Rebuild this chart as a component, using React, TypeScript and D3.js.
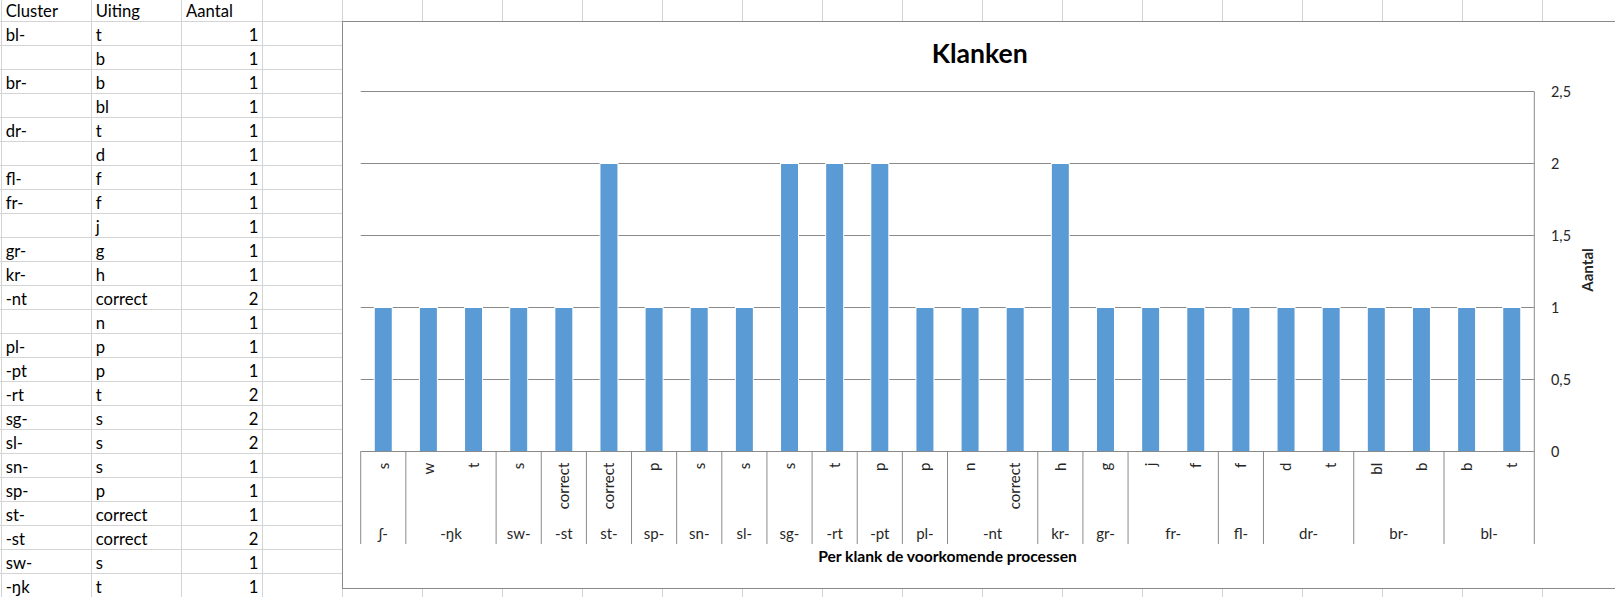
import React, { useLayoutEffect, useRef, useState } from "react";
import * as d3 from "d3";

// ---- spreadsheet table data ----
const tableHeader = ["Cluster", "Uiting", "Aantal"];
const tableCluster = ["bl-", "", "br-", "", "dr-", "", "fl-", "fr-", "", "gr-", "kr-", "-nt", "", "pl-", "-pt", "-rt", "sg-", "sl-", "sn-", "sp-", "st-", "-st", "sw-", "-ŋk"];
const tableUiting = ["t", "b", "b", "bl", "t", "d", "f", "f", "j", "g", "h", "correct", "n", "p", "p", "t", "s", "s", "s", "p", "correct", "correct", "s", "t"];
const tableAantal = [1, 1, 1, 1, 1, 1, 1, 1, 1, 1, 1, 2, 1, 1, 1, 2, 2, 2, 1, 1, 1, 2, 1, 1];

// ---- chart data ----
const barCluster = ["ʃ-", "-ŋk", "-ŋk", "sw-", "-st", "st-", "sp-", "sn-", "sl-", "sg-", "-rt", "-pt", "pl-", "-nt", "-nt", "kr-", "gr-", "fr-", "fr-", "fl-", "dr-", "dr-", "br-", "br-", "bl-", "bl-"];
const barUiting = ["s", "w", "t", "s", "correct", "correct", "p", "s", "s", "s", "t", "p", "p", "n", "correct", "h", "g", "j", "f", "f", "d", "t", "bl", "b", "b", "t"];
const barAantal = [1, 1, 1, 1, 1, 2, 1, 1, 1, 2, 2, 2, 1, 1, 1, 2, 1, 1, 1, 1, 1, 1, 1, 1, 1, 1];
const yTicks = [0, 0.5, 1, 1.5, 2, 2.5];
const chartTitle = "Klanken";
const xTitle = "Per klank de voorkomende processen";
const yTitle = "Aantal";

const W = 1615;
const H = 597;
const FONT = "Lato, 'Open Sans', sans-serif";

// text samples and their widths in the reference (px), used to fit font sizes
const fitSpecs: { key: string; text: string; bold: boolean; target: number }[] = [
  { key: "title", text: chartTitle, bold: true, target: 96 },
  { key: "xTitle", text: xTitle, bold: true, target: 259 },
  { key: "yTitle", text: yTitle, bold: true, target: 43.7 },
  { key: "table", text: "correct", bold: false, target: 51.7 },
  { key: "cat", text: "correct", bold: false, target: 46.7 },
  { key: "tick", text: "2,5", bold: false, target: 20 },
];

export default function App() {
  const measureRefs = useRef<(SVGTextElement | null)[]>([]);
  const [sizes, setSizes] = useState<Record<string, number>>({
    title: 26,
    xTitle: 16.5,
    yTitle: 14.7,
    table: 15.5,
    cat: 14.67,
    tick: 14.67,
  });
  const [measured, setMeasured] = useState(false);

  useLayoutEffect(() => {
    const next: Record<string, number> = {};
    fitSpecs.forEach((s, i) => {
      const el = measureRefs.current[i];
      if (el) {
        const len = el.getComputedTextLength();
        if (len > 0) next[s.key] = (100 * s.target) / len;
      }
    });
    setSizes((prev) => ({ ...prev, ...next }));
    setMeasured(true);
  }, []);

  // spreadsheet grid
  const rowY0 = 21.5;
  const rowH = 24;
  const colLines = [1.5, 91.5, 181.5, 262.5];
  for (let x = 342.5; x < W; x += 80) colLines.push(x);
  const rowLines: number[] = [];
  for (let y = rowY0; y < H; y += rowH) rowLines.push(y);

  // chart geometry
  const chartLeft = 342.5;
  const chartTop = 21.5;
  const chartBottom = 588.5;
  const plotLeft = 360.7;
  const plotRight = 1534.3;
  const plotTop = 91.5;
  const plotBottom = 451.5;

  const idx = barAantal.map((_, i) => i);
  const x = d3
    .scaleBand<number>()
    .domain(idx)
    .range([plotLeft, plotRight])
    .paddingInner(0.624)
    .paddingOuter(0.312);
  const y = d3.scaleLinear().domain([0, 2.5]).range([plotBottom, plotTop]);
  const step = x.step();
  const fmt = (v: number) => String(v).replace(".", ",");

  // groups of consecutive clusters
  const groups: { name: string; start: number; end: number }[] = [];
  barCluster.forEach((c, i) => {
    const g = groups[groups.length - 1];
    if (g && g.name === c) g.end = i;
    else groups.push({ name: c, start: i, end: i });
  });
  const groupX = (i: number) => plotLeft + i * step;

  const gridColor = "#d4d4d4";
  const axisColor = "#8a8a8a";
  const textColor = "#262626";

  return (
    <svg
      width={W}
      height={H}
      style={{ position: "absolute", left: 0, top: 0, background: "#fff" }}
      fontFamily={FONT}
    >
      {/* hidden measuring texts */}
      {!measured &&
        fitSpecs.map((s, i) => (
          <text
            key={"m" + s.key}
            ref={(el) => {
              measureRefs.current[i] = el;
            }}
            x={0}
            y={-200}
            fontSize={100}
            fontWeight={s.bold ? "bold" : "normal"}
            opacity={0}
          >
            {s.text}
          </text>
        ))}
      <rect x={0} y={0} width={W} height={H} fill="#fff" />
      {/* spreadsheet grid */}
      {rowLines.map((ry) => (
        <line key={"r" + ry} x1={0} x2={W} y1={ry} y2={ry} stroke={gridColor} strokeWidth={1} />
      ))}
      {colLines.map((cx) => (
        <line key={"c" + cx} x1={cx} x2={cx} y1={0} y2={H} stroke={gridColor} strokeWidth={1} />
      ))}
      {/* table text */}
      <g fontSize={sizes.table} fill="#000">
        <text x={5.7} y={16.5}>{tableHeader[0]}</text>
        <text x={95.7} y={16.5}>{tableHeader[1]}</text>
        <text x={186} y={16.5}>{tableHeader[2]}</text>
        {tableCluster.map((c, i) => (
          <text key={"tc" + i} x={5.7} y={16.5 + rowH * (i + 1)}>{c}</text>
        ))}
        {tableUiting.map((u, i) => (
          <text key={"tu" + i} x={95.7} y={16.5 + rowH * (i + 1)}>{u}</text>
        ))}
        {tableAantal.map((a, i) => (
          <text key={"ta" + i} x={258.3} y={16.5 + rowH * (i + 1)} textAnchor="end">{a}</text>
        ))}
      </g>

      {/* chart area */}
      <rect
        x={chartLeft}
        y={chartTop}
        width={W + 10 - chartLeft}
        height={chartBottom - chartTop}
        fill="#fff"
        stroke={axisColor}
        strokeWidth={1}
      />
      <text x={979.7} y={63.3} textAnchor="middle" fontSize={sizes.title} fontWeight="bold" fill="#000">
        {chartTitle}
      </text>

      {/* gridlines */}
      {yTicks.map((t) => (
        <line
          key={"g" + t}
          x1={plotLeft}
          x2={plotRight}
          y1={Math.round(y(t) - 0.5) + 0.5}
          y2={Math.round(y(t) - 0.5) + 0.5}
          stroke={axisColor}
          strokeWidth={1}
        />
      ))}
      {/* bars */}
      {barAantal.map((v, i) => (
        <g key={"b" + i}>
          <rect
            x={(x(i) as number) - 1}
            y={y(v) - 0.5}
            width={x.bandwidth() + 2}
            height={plotBottom - y(v)}
            fill="#fff"
          />
          <rect
            x={x(i) as number}
            y={y(v) + 0.5}
            width={x.bandwidth()}
            height={plotBottom - y(v) - 0.5}
            fill="#5B9BD5"
          />
        </g>
      ))}
      {/* baseline and value axis */}
      <line x1={plotLeft} x2={plotRight} y1={plotBottom} y2={plotBottom} stroke={axisColor} />
      <line x1={plotRight} x2={plotRight} y1={plotTop} y2={plotBottom} stroke={axisColor} />
      {/* y tick labels */}
      <g fontSize={sizes.tick} fill={textColor}>
        {yTicks.map((t) => (
          <text key={"yt" + t} x={1551} y={y(t)} dy="0.35em">
            {fmt(t)}
          </text>
        ))}
      </g>
      <text
        transform={`translate(1587.3,270) rotate(-90)`}
        textAnchor="middle"
        dy="0.35em"
        fontSize={sizes.yTitle}
        fontWeight="bold"
        fill={textColor}
      >
        {yTitle}
      </text>

      {/* category separators */}
      {groups.map((g) => (
        <line
          key={"s" + g.start}
          x1={groupX(g.start)}
          x2={groupX(g.start)}
          y1={plotBottom}
          y2={544}
          stroke={axisColor}
        />
      ))}
      <line x1={plotRight} x2={plotRight} y1={plotBottom} y2={544} stroke={axisColor} />

      {/* inner labels (rotated) */}
      <g fontSize={sizes.cat} fill={textColor}>
        {barUiting.map((u, i) => (
          <text
            key={"u" + i}
            transform={`translate(${(x(i) as number) + x.bandwidth() / 2},462.7) rotate(-90)`}
            textAnchor="end"
            dy="0.35em"
          >
            {u}
          </text>
        ))}
        {groups.map((g) => (
          <text
            key={"gl" + g.start}
            x={(groupX(g.start) + groupX(g.end + 1)) / 2}
            y={539}
            textAnchor="middle"
          >
            {g.name}
          </text>
        ))}
      </g>
      <text
        x={(plotLeft + plotRight) / 2}
        y={561.7}
        textAnchor="middle"
        fontSize={sizes.xTitle}
        fontWeight="bold"
        fill="#000"
      >
        {xTitle}
      </text>
    </svg>
  );
}
